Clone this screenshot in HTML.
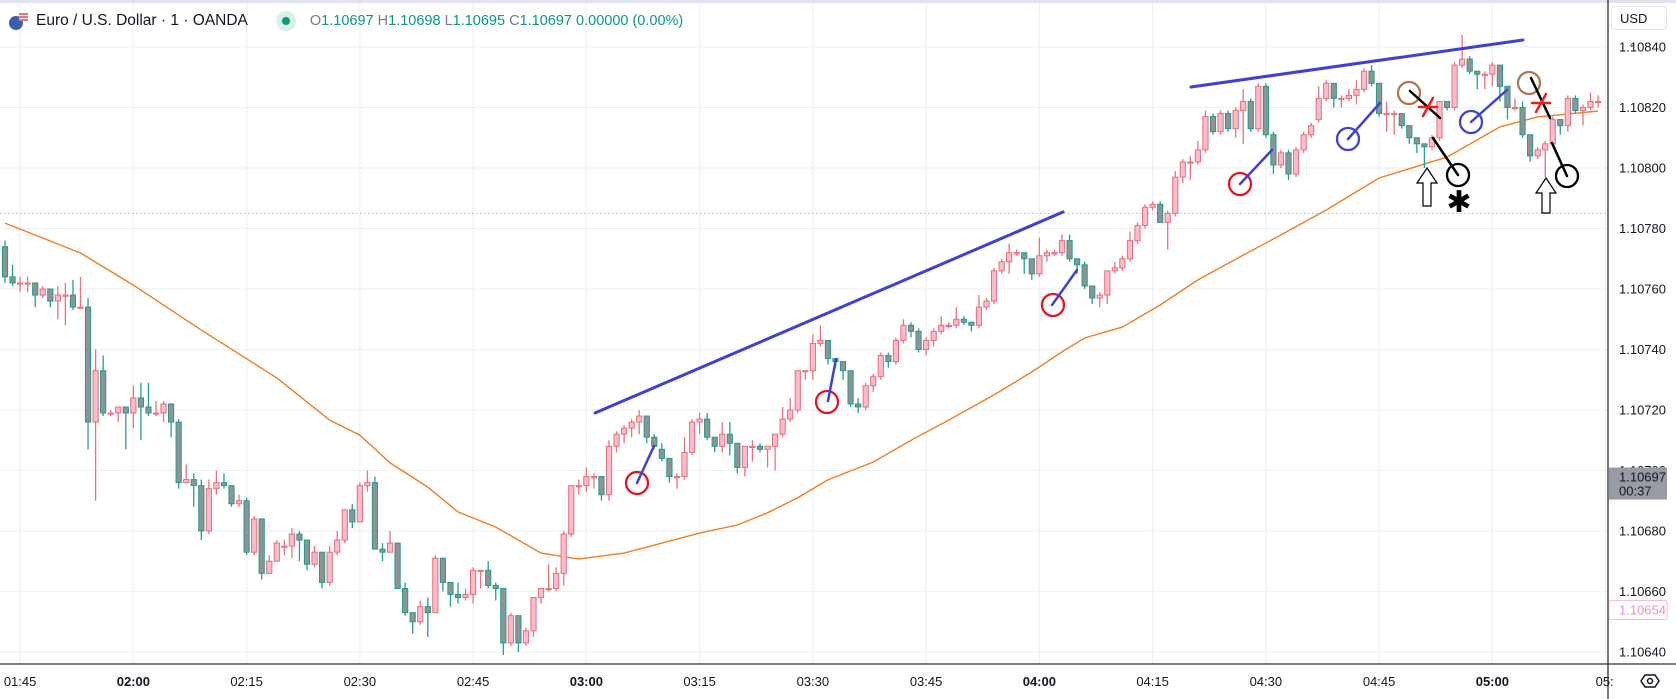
<!DOCTYPE html>
<html><head><meta charset="utf-8">
<style>
html,body{margin:0;padding:0;background:#fff;}
body{width:1676px;height:699px;overflow:hidden;position:relative;font-family:"Liberation Sans",sans-serif;}
#hdr{position:absolute;left:0;top:9px;height:24px;display:flex;align-items:center;font-size:15.5px;color:#131722;white-space:nowrap;}
.g{color:#787b86}.v{color:#089981}
</style></head><body>
<svg id="chart" width="1676" height="699" style="position:absolute;left:0;top:0" xmlns="http://www.w3.org/2000/svg"></svg>
<div id="hdr">
  <svg width="22" height="20" style="margin-left:8px;margin-right:6px"><circle cx="8" cy="12" r="7" fill="#3a5fb0"/><path d="M11 2 h9 v8 h-9z" fill="#e8eaf5"/><path d="M11 3h9M11 6h9M11 9h9" stroke="#d33" stroke-width="1.3"/></svg>
  <span>Euro / U.S. Dollar · 1 · OANDA</span>
  <span style="display:inline-block;width:20px;height:20px;border-radius:50%;background:#d8f0ea;margin-left:28px;position:relative"><span style="position:absolute;left:6px;top:6px;width:8px;height:8px;border-radius:50%;background:#089981"></span></span>
  <span style="margin-left:14px;font-size:14.5px"><span class="g">O</span><span class="v">1.10697</span> <span class="g">H</span><span class="v">1.10698</span> <span class="g">L</span><span class="v">1.10695</span> <span class="g">C</span><span class="v">1.10697</span> <span class="v">0.00000 (0.00%)</span></span>
</div>
<div style="position:absolute;left:1611px;top:6px;width:56px;height:24px;border:1px solid #e0e3eb;border-radius:4px;font-size:13px;color:#131722;line-height:24px;box-sizing:border-box;padding-left:8px">USD <span style="font-size:9px;margin-left:8px">&#8964;</span></div>
<script>
const opens=[174,164,162,162,162,158,160,156,158,158,154,154,116,133,119,119,121,119,124,121,119,119,122,116,96,97,95,80,94,96,95,89,90,73,84,66,70,75,75,79,77,69,73,63,73,77,87,83,95,96,74,73,76,61,53,50,55,53,71,63,59,58,59,67,67,62,61,43,52,43,47,58,61,61,66,79,95,95,98,98,92,108,112,114,116,118,111,107,104,98,98,106,116,117,111,108,112,109,101,108,108,107,108,112,117,120,133,133,142,143,137,136,133,122,121,128,131,138,136,143,148,146,140,143,146,148,148,150,149,148,154,156,166,169,172,172,170,165,171,172,172,176,170,168,161,157,158,166,167,170,176,181,187,188,182,185,197,202,202,206,217,212,218,213,219,222,213,227,211,201,205,198,206,211,216,223,228,223,223,224,226,232,228,218,218,218,214,210,208,207,210,222,220,234,236,232,231,231,234,227,220,220,211,204,206,208,216,214,223,219,220,222];
const closes=[164,162,162,162,158,160,156,158,158,154,154,116,133,119,119,121,119,124,121,119,119,122,116,96,97,95,80,94,96,95,89,90,73,84,66,70,76,75,79,77,69,73,63,73,77,87,83,95,96,74,73,76,61,53,50,55,53,71,63,59,58,59,67,67,62,61,43,52,43,47,58,61,61,66,79,95,95,98,98,92,108,112,114,116,118,111,108,104,98,98,106,116,117,111,108,112,109,101,108,108,107,108,112,117,120,133,133,142,143,137,136,133,122,121,128,131,138,136,143,148,146,140,143,146,148,148,150,149,148,154,156,166,169,172,172,170,165,171,172,172,176,170,168,161,157,158,166,167,170,176,181,187,188,182,185,197,202,202,206,217,212,218,213,219,222,213,227,211,201,205,198,206,211,214,223,228,223,223,224,226,232,228,218,218,218,214,210,208,207,210,222,220,234,236,232,231,231,234,227,220,220,211,204,206,208,216,214,223,219,220,222,222];
const highs=[176,168,164,164,162,161,160,161,162,163,164,157,140,138,120,121,121,128,129,129,123,123,122,117,102,99,97,97,100,99,95,92,91,85,84,72,77,77,81,80,77,75,73,75,80,87,89,96,100,98,76,80,76,63,53,57,58,72,71,63,63,61,68,67,70,63,61,53,52,48,58,61,69,68,80,95,97,101,99,98,110,113,115,117,120,118,112,109,104,99,111,117,119,119,111,116,116,109,108,110,109,108,112,121,124,133,133,145,148,143,137,136,133,124,129,132,139,139,144,150,149,147,144,147,151,149,154,151,149,158,157,167,170,175,173,172,170,177,173,173,178,178,170,169,161,159,166,169,171,179,182,188,189,189,186,199,203,204,209,219,218,219,219,220,226,223,228,228,212,206,206,207,212,215,227,229,228,224,226,229,233,234,228,222,219,218,214,210,208,211,222,222,235,244,237,232,232,235,234,227,223,222,211,207,209,217,216,224,224,221,225,224];
const lows=[162,161,159,159,154,157,154,150,148,153,154,107,90,118,118,116,107,114,110,118,118,116,111,94,96,88,77,79,92,94,88,88,72,72,64,66,70,72,71,70,67,68,61,62,72,76,81,83,93,74,70,73,61,52,46,49,45,53,60,55,56,57,56,61,61,57,39,42,40,42,45,56,60,60,62,78,92,93,94,90,90,106,109,111,112,109,107,103,96,94,97,105,112,110,106,106,105,99,98,103,106,101,100,111,116,119,130,130,141,135,134,130,121,119,120,126,130,134,135,142,144,139,138,141,145,147,147,148,146,147,153,155,165,165,171,165,163,164,169,171,171,169,165,160,155,154,155,165,166,169,175,180,186,182,173,184,195,196,201,205,211,211,212,210,208,212,212,210,198,200,196,197,205,210,215,222,220,220,222,221,225,227,217,212,211,213,208,205,200,206,209,219,219,233,231,226,226,227,222,216,219,210,202,203,197,207,211,212,218,214,219,220];
const maIdx=[0,10,17,26,36,43,47,51,56,60,65,71,76,82,87,92,97,101,105,109,115,120,125,131,136,140,143,148,153,158,164,169,175,182,191,198,203,211];
const maVal=[181.8,171.9,161.3,146.4,130.6,116.7,111.7,102.5,94.5,86.3,81.3,72.7,70.7,72.7,76,79.3,82,86,91,96.9,102.8,110,116.7,125,132.6,139.2,143.8,147.4,154.7,163,171.2,177.9,186.1,196.7,203.6,213.6,216.9,218.8];
const priceTicks=[240,220,200,180,160,140,120,100,80,60,40];
const priceTickLabels=["1.10840","1.10820","1.10800","1.10780","1.10760","1.10740","1.10720","1.10700","1.10680","1.10660","1.10640"];
const timeTickIdx=[2,17,32,47,62,77,92,107,122,137,152,167,182,197,212];
const timeTickLabels=["01:45","02:00","02:15","02:30","02:45","03:00","03:15","03:30","03:45","04:00","04:15","04:30","04:45","05:00","05:"];
const boldTicks=["02:00","03:00","04:00","05:00"];

const NS="http://www.w3.org/2000/svg";
const svg=document.getElementById('chart');
const PLOT_R=1608, AX_Y=664;
function X(k){return 5+k*7.55;}
function Y(p){return 47+(240-p)*3.025;}
function mk(tag,attrs,parent){const e=document.createElementNS(NS,tag);for(const a in attrs)e.setAttribute(a,attrs[a]);(parent||svg).appendChild(e);return e;}

// top border
let tb=mk('rect',{x:0,y:0,width:1676,height:3,fill:'#e0e3eb'});


// grid
const grid=mk('g',{});


priceTicks.forEach(p=>{const l=mk('line',{x1:0,x2:PLOT_R,y1:Y(p),y2:Y(p),stroke:'#eef1f6','stroke-width':1.3},grid);

});
timeTickIdx.forEach(k=>{if(X(k)>PLOT_R)return;const l=mk('line',{x1:X(k),x2:X(k),y1:3,y2:AX_Y,stroke:'#eef1f6','stroke-width':1.3},grid);

});
// dotted line
let dl=mk('line',{x1:0,x2:PLOT_R,y1:Y(185),y2:Y(185),stroke:'#b2b5be','stroke-width':1,'stroke-dasharray':'1.5 2.5'});



// MA
let d='';maIdx.forEach((k,i)=>{d+=(i?'L':'M')+X(k).toFixed(1)+' '+Y(maVal[i]).toFixed(1);});
let ma=mk('path',{d:d,fill:'none',stroke:'#f57c1f','stroke-width':1.4});



// candles
const cg=mk('g',{});


opens.forEach((o,k)=>{
  const c=closes[k],h=highs[k],l=lows[k],up=c>=o;
  const g=mk('g',{},cg);
  
  
  const x=X(k);
  mk('line',{x1:x,x2:x,y1:Y(h),y2:Y(l),stroke:up?'#ef6f7c':'#22a08f','stroke-width':1.3},g);
  const top=Y(Math.max(o,c)),bot=Y(Math.min(o,c));
  mk('rect',{x:x-2.6,y:top,width:5.2,height:Math.max(bot-top,1.2),fill:up?'#f9bccd':'#909396',stroke:up?'#ec6d78':'#1f9e8c','stroke-width':1});
});

// annotations
const an=mk('g',{});


function line(x1,y1,x2,y2,col,w,name){const e=mk('line',{x1,y1,x2,y2,stroke:col,'stroke-width':w,'stroke-linecap':'round'},an);

}
function circ(cx,cy,col,name){const e=mk('circle',{cx,cy,r:11,fill:'none',stroke:col,'stroke-width':2.3},an);

}
const B='#4040d4';
line(595,413,1063,212,B,3,'trendline-1');
line(1191,87,1523,40,B,3,'trendline-2');
circ(637,483,'#e8141c','red-circle-1');line(637,483,654,446,B,2.5,'blue-segment-1');
circ(827,402,'#e8141c','red-circle-2');line(828,401,836,359,B,2.5,'blue-segment-2');
circ(1053,305,'#e8141c','red-circle-3');line(1052,305,1077,270,B,2.5,'blue-segment-3');
circ(1240,184,'#e8141c','red-circle-4');line(1240,184,1272,150,B,2.5,'blue-segment-4');
circ(1348,139,B,'blue-circle-1');line(1348,139,1380,103,B,2.5,'blue-segment-5');
circ(1471,122,B,'blue-circle-2');line(1471,122,1507,90,B,2.5,'blue-segment-6');
circ(1409,93,'#b07850','brown-circle-1');line(1410,91,1440,118,'#000',2.5,'black-line-1');
line(1433,138,1458,175,'#000',2.5,'black-line-2');circ(1458,175,'#000','black-circle-1');
circ(1529,83,'#b07850','brown-circle-2');line(1531,78,1550,118,'#000',2.5,'black-line-3');
line(1552,143,1567,176,'#000',2.5,'black-line-4');circ(1567,176,'#000','black-circle-2');
function cross(cx,cy,name){line(cx-9,cy,cx+9,cy,'#ee1c1c',2.5,name);line(cx-5,cy+9,cx+5,cy-9,'#ee1c1c',2.5,name);}
cross(1428,107,'red-x-1');cross(1541,103,'red-x-2');
function arrow(cx,y1,y2,name){const e=mk('path',{d:`M${cx} ${y1} L${cx+10} ${y1+15} L${cx+4} ${y1+15} L${cx+4} ${y2} L${cx-4} ${y2} L${cx-4} ${y1+15} L${cx-10} ${y1+15}Z`,fill:'#fff',stroke:'#000','stroke-width':1.2},an);

}
arrow(1427,168,206,'up-arrow-1');arrow(1546,178,213,'up-arrow-2');
const ast=mk('text',{x:1459,y:212,'font-size':30,'font-weight':'bold','text-anchor':'middle','font-family':'DejaVu Sans, sans-serif',fill:'#000'},an);
ast.textContent='✱';



// axes
let ax=mk('line',{x1:0,x2:1676,y1:AX_Y,y2:AX_Y,stroke:'#2a2e39','stroke-width':1.3});


let pa=mk('line',{x1:PLOT_R,x2:PLOT_R,y1:0,y2:699,stroke:'#2a2e39','stroke-width':1.3});


priceTicks.forEach((p,i)=>{const t=mk('text',{x:1619,y:Y(p)+4.5,'font-size':13,fill:'#131722','font-family':'Liberation Sans, sans-serif'});
t.textContent=priceTickLabels[i];

});
timeTickIdx.forEach((k,i)=>{const lab=timeTickLabels[i];const t=mk('text',{x:X(k),y:686,'font-size':13,'text-anchor':lab==='05:'?'start':'middle',fill:'#131722','font-weight':boldTicks.includes(lab)?'bold':'normal','font-family':'Liberation Sans, sans-serif'});
if(lab==='05:')t.setAttribute('x',X(k)-10);
t.textContent=lab;

});
// last price label
const lg=mk('g',{});


mk('rect',{x:1609,y:Y(97)-12,width:58,height:32,fill:'#989ba3'},lg);
const t1=mk('text',{x:1619,y:Y(97)+2,'font-size':13,fill:'#131722'},lg);t1.textContent='1.10697';
const t2=mk('text',{x:1619,y:Y(97)+16,'font-size':13,fill:'#131722'},lg);t2.textContent='00:37';
const pg=mk('g',{});


mk('rect',{x:1609,y:Y(54)-9,width:58,height:19,fill:'#fff',stroke:'#f7b8c8','stroke-width':1,rx:2},pg);
const t3=mk('text',{x:1619,y:Y(54)+5,'font-size':13,fill:'#f48fb1'},pg);t3.textContent='1.10654';
// settings icon
const gi=mk('g',{});


mk('path',{d:'M1641 681 L1645 675 L1655 675 L1659 681 L1655 687 L1645 687Z',fill:'none',stroke:'#131722','stroke-width':1.5},gi);
mk('circle',{cx:1650,cy:681,r:2.5,fill:'none',stroke:'#131722','stroke-width':1.5},gi);
</script>
</body></html>
